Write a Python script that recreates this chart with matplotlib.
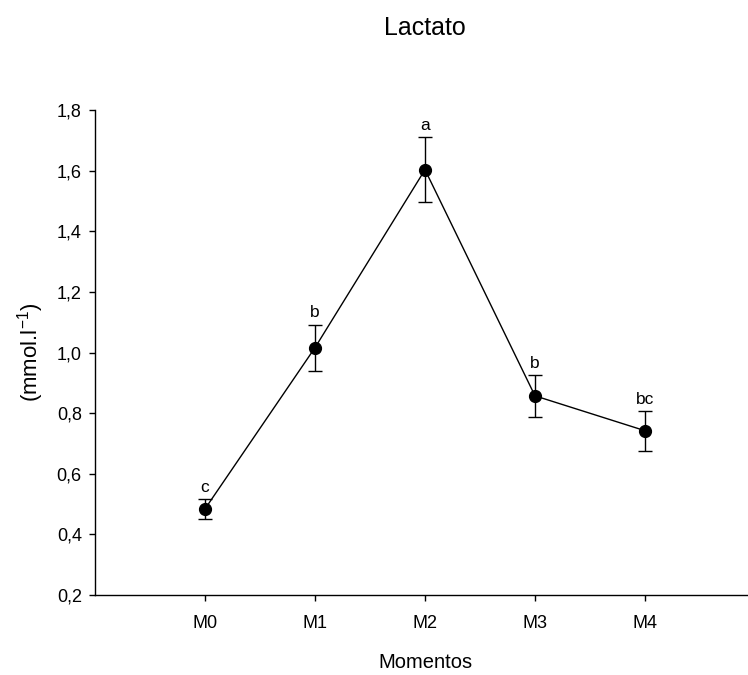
import matplotlib
matplotlib.use("Agg")
import matplotlib.pyplot as plt
from matplotlib.ticker import FuncFormatter

plt.rcParams["font.family"] = ["Liberation Sans", "DejaVu Sans"]
plt.rcParams["mathtext.default"] = "regular"

momentos = ["M0", "M1", "M2", "M3", "M4"]
lactato = [0.484, 1.016, 1.603, 0.857, 0.742]
erro = [0.032, 0.076, 0.107, 0.069, 0.066]
letras = ["c", "b", "a", "b", "bc"]
y_ticks = [0.2, 0.4, 0.6, 0.8, 1.0, 1.2, 1.4, 1.6, 1.8]

fig = plt.figure(figsize=(7.48, 6.75), dpi=100)
ax = fig.add_axes([95 / 748, 80 / 675, 660 / 748, 485 / 675])

x = list(range(len(momentos)))
ax.errorbar(x, lactato, yerr=erro, color="black", linewidth=1.0,
            marker="o", markersize=8.5, ecolor="black", elinewidth=1.0,
            capsize=5, capthick=1.0, clip_on=False)

for xi, yi, ei, letra in zip(x, lactato, erro, letras):
    ax.annotate(letra, (xi, yi + ei), xytext=(0, 3), textcoords="offset points",
                ha="center", va="bottom", fontsize=12.5)

ax.set_xlim(-1, 5)
ax.set_ylim(0.2, 1.8)
ax.set_xticks(x)
ax.set_xticklabels(momentos)
ax.set_yticks(y_ticks)
ax.yaxis.set_major_formatter(FuncFormatter(lambda v, p: f"{v:.1f}".replace(".", ",")))

ax.spines["top"].set_visible(False)
ax.spines["right"].set_visible(False)
ax.spines["left"].set_linewidth(1.0)
ax.spines["bottom"].set_linewidth(1.0)
ax.tick_params(axis="x", direction="out", length=4.5, width=1, pad=10, labelsize=13)
ax.tick_params(axis="y", direction="out", length=4.5, width=1, pad=5, labelsize=13)

ax.set_xlabel("Momentos", fontsize=14.5, labelpad=15)
ax.set_ylabel("(mmol.l$^{-1}$)", fontsize=16, labelpad=8)
ax.set_title("Lactato", fontsize=18, pad=54)

fig.savefig("out.png", dpi=100)
